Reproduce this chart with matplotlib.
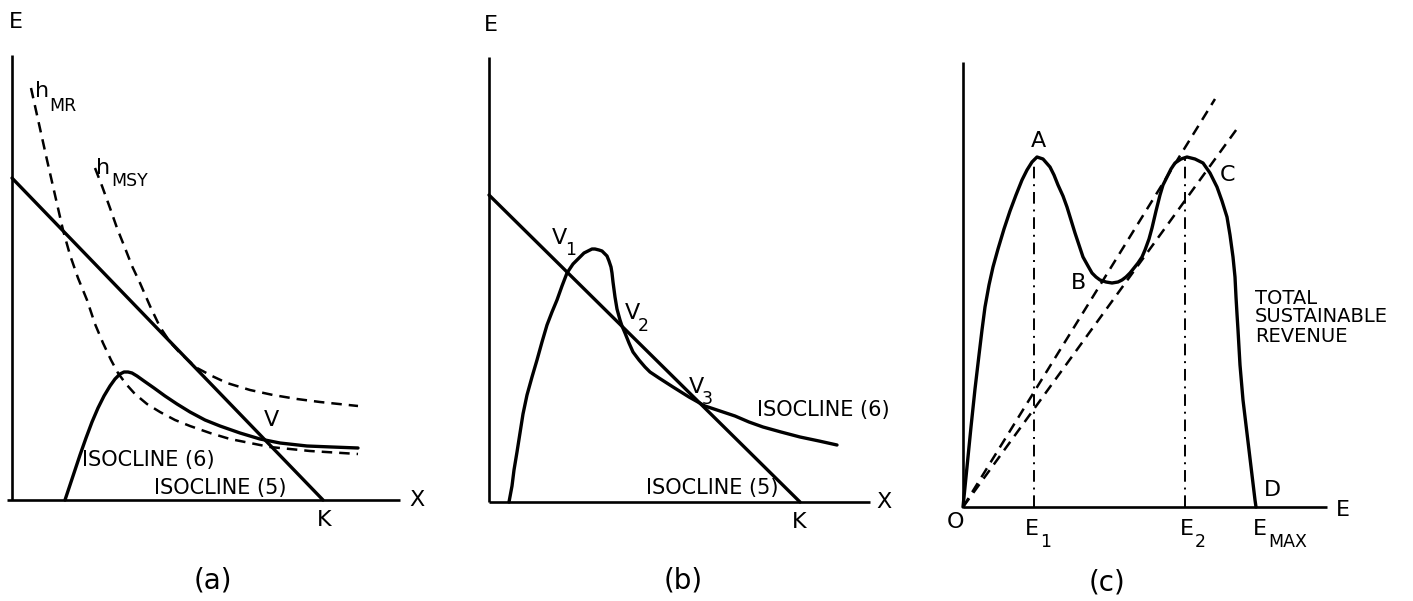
import matplotlib
matplotlib.use("Agg")
import matplotlib.pyplot as plt

plt.rcParams['font.family'] = ['DejaVu Sans']

W, H = 1413, 601

# ---- panel (a): isoclines with harvest curves ----
a_iso5_x = [0, 311]
a_iso5_y = [322, 0]
a_iso6_x = [53, 58, 63, 68, 74, 80, 86, 92, 98, 103, 108, 112, 116, 120, 125, 132, 142,
            153, 165, 178, 193, 208, 228, 248, 268, 295, 320, 346]
a_iso6_y = [0, 15, 30, 45, 62, 78, 92, 104, 114, 121, 126, 128, 128, 127, 124, 119, 112,
            104, 96, 88, 80, 74, 67, 61, 57, 54, 53, 52]
a_hmr_x = [19, 27, 35, 43, 51, 58, 66, 75, 83, 91, 99, 106, 114, 123, 135, 148, 163, 178,
           198, 218, 238, 258, 298, 346]
a_hmr_y = [412, 376, 340, 305, 270, 245, 222, 200, 176, 157, 140, 127, 116, 106, 96, 88,
           80, 74, 67, 61, 57, 53, 49, 46]
a_hmsy_x = [83, 90, 98, 105, 113, 120, 128, 138, 148, 158, 168, 177, 185, 200, 215, 238,
            261, 285, 308, 346]
a_hmsy_y = [332, 314, 292, 272, 252, 234, 217, 194, 173, 158, 147, 139, 132, 124, 117, 110,
            105, 101, 98, 94]

# ---- panel (b): three equilibria ----
b_iso5_x = [0, 311]
b_iso5_y = [307, 0]
b_iso6_x = [20, 23, 25, 28, 31, 34, 38, 43, 48, 53, 58, 63, 68, 73, 78, 84, 91, 95, 99,
            103, 106, 110, 113, 116, 118, 120, 122, 123, 124, 126, 128, 131, 133, 136,
            140, 144, 150, 156, 161, 170, 184, 200, 216, 231, 246, 260, 274, 292, 311,
            330, 348]
b_iso6_y = [0, 16, 32, 50, 69, 88, 107, 125, 142, 160, 177, 190, 202, 216, 229, 238, 245,
            249, 251, 253, 253, 252, 251, 248, 246, 241, 235, 229, 220, 205, 193, 182,
            176, 169, 159, 150, 142, 135, 130, 124, 115, 105, 96, 91, 86, 80, 75, 70, 65,
            61, 57]

# ---- panel (c): total sustainable revenue vs effort ----
c_rev_x = [0, 4, 8, 12, 16, 19, 22, 26, 30, 35, 41, 47, 53, 59, 64,
           69, 74, 80, 87, 91, 95, 100, 104, 108, 112, 116, 120, 125, 129, 133, 137, 143,
           149, 155, 159, 163, 167, 171, 175, 179, 182, 186, 189, 193, 197, 200, 204,
           208, 212, 218, 224, 232, 240, 247, 254, 259, 264, 267, 270, 272, 273, 274,
           275, 277, 280, 283, 286, 289, 292, 293]
c_rev_y = [0, 40, 80, 118, 152, 177, 200, 222, 240, 258, 278, 296, 312, 327, 337,
           345, 350, 348, 340, 332, 322, 311, 300, 287, 274, 262, 250, 241,
           234, 230, 227, 225, 224, 225, 227, 230, 234, 239, 244, 250, 257, 268, 279, 296,
           312, 322, 330, 338, 344, 348, 350, 348, 344, 334, 320, 306, 290, 272, 250, 230,
           210, 193, 177, 142, 107, 82, 57, 32, 7, 0]
c_e1, c_e2, c_peak = 71, 222, 350
c_ray1 = (252, 408)
c_ray2 = (276, 381)

LW = 2.4
AX_LW = 1.9
DASH_LW = 1.8
DASH = (4.2, 2.8)
BIG, SUB, MID = 16, 12.5, 15


def panel(left, right, ox, oy):
    ax = fig.add_axes([left / W, 0, (right - left) / W, 1])
    ax.set_xlim(left - ox, right - ox)
    ax.set_ylim(oy - H, oy)
    ax.axis('off')
    return ax


def axes_lines(ax, xmax, ymax, xmin=0):
    ax.plot([0, 0], [0, ymax], color='black', lw=AX_LW, solid_capstyle='butt')
    ax.plot([xmin, xmax], [0, 0], color='black', lw=AX_LW, solid_capstyle='butt')


def label(ax, x, y, s, sub=None, dx=14, dy=-12):
    ax.text(x, y, s, fontsize=BIG, ha='left', va='center', clip_on=False)
    if sub:
        ax.text(x + dx, y + dy, sub, fontsize=SUB, ha='left', va='center',
                clip_on=False)


def curve(ax, xs, ys, **kw):
    ax.plot(xs, ys, color='black', solid_joinstyle='round', solid_capstyle='round', **kw)


fig = plt.figure(figsize=(W / 100, H / 100), dpi=100)

# (a)
ax = panel(0, 470, 12, 500)
axes_lines(ax, 388, 445, xmin=-5)
curve(ax, a_iso5_x, a_iso5_y, lw=LW)
curve(ax, a_iso6_x, a_iso6_y, lw=LW)
curve(ax, a_hmr_x, a_hmr_y, lw=DASH_LW, dashes=DASH)
curve(ax, a_hmsy_x, a_hmsy_y, lw=DASH_LW, dashes=DASH)
label(ax, -3, 478, 'E')
label(ax, 397, 0, 'X')
label(ax, 305, -20, 'K')
label(ax, 252, 80, 'V')
label(ax, 23, 409, 'h', 'MR', dx=14, dy=-15)
label(ax, 84, 332, 'h', 'MSY', dx=15, dy=-13)
ax.text(70, 40, 'ISOCLINE (6)', fontsize=MID, ha='left', va='center')
ax.text(142, 12, 'ISOCLINE (5)', fontsize=MID, ha='left', va='center')
ax.text(201, -80, '(a)', fontsize=20, ha='center', va='center')

# (b)
ax = panel(470, 950, 489, 502)
axes_lines(ax, 381, 445)
curve(ax, b_iso5_x, b_iso5_y, lw=LW)
curve(ax, b_iso6_x, b_iso6_y, lw=LW)
label(ax, -5, 477, 'E')
label(ax, 387, 0, 'X')
label(ax, 303, -20, 'K')
label(ax, 63, 264, 'V', '1', dx=13, dy=-12)
label(ax, 136, 189, 'V', '2', dx=13, dy=-13)
label(ax, 200, 115, 'V', '3', dx=13, dy=-12)
ax.text(268, 92, 'ISOCLINE (6)', fontsize=MID, ha='left', va='center')
ax.text(157, 14, 'ISOCLINE (5)', fontsize=MID, ha='left', va='center')
ax.text(194, -78, '(b)', fontsize=20, ha='center', va='center')

# (c)
ax = panel(950, 1413, 963, 507)
axes_lines(ax, 364, 445)
curve(ax, c_rev_x, c_rev_y, lw=LW)
for xe in (c_e1, c_e2):
    ax.plot([xe, xe], [0, c_peak], color='black', lw=1.4, dashes=(6, 3, 1, 3))
for rx, ry in (c_ray1, c_ray2):
    curve(ax, [0, rx], [0, ry], lw=DASH_LW, dashes=DASH)
label(ax, -16, -15, 'O')
label(ax, 373, -3, 'E')
label(ax, 68, 366, 'A')
label(ax, 108, 224, 'B')
label(ax, 257, 332, 'C')
label(ax, 301, 17, 'D')
label(ax, 62, -22, 'E', '1', dx=15, dy=-13)
label(ax, 217, -22, 'E', '2', dx=15, dy=-13)
label(ax, 290, -22, 'E', 'MAX', dx=15, dy=-13)
ax.text(292, 190, 'TOTAL\nSUSTAINABLE\nREVENUE', fontsize=14, ha='left', va='center',
        linespacing=1.0)
ax.text(144, -76, '(c)', fontsize=20, ha='center', va='center')

fig.savefig('out.png', dpi=100)
